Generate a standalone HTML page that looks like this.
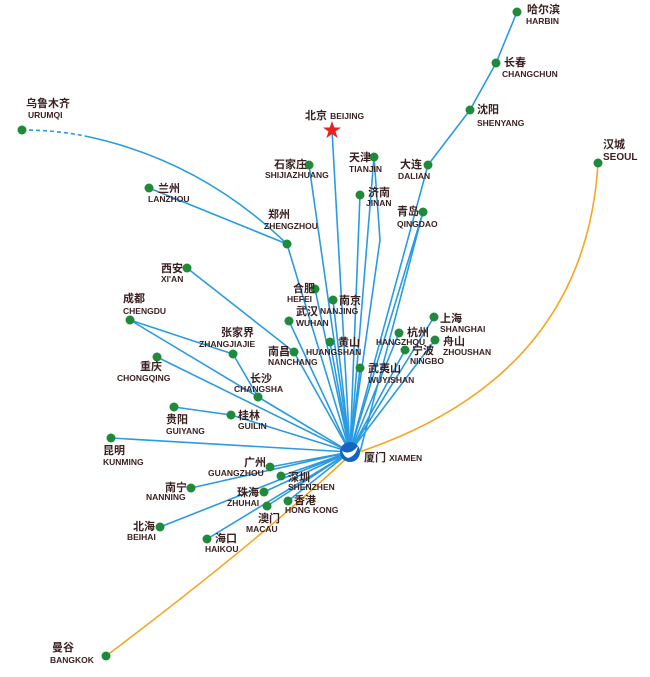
<!DOCTYPE html>
<html><head><meta charset="utf-8"><style>
body{margin:0;background:#fff;}
svg text{font-family:"Liberation Sans","Noto Sans CJK SC",sans-serif;font-weight:bold;fill:#3a1f1f;}
.c{font-size:11px}.e{font-size:8.5px}
</style></head><body>
<svg width="650" height="672" viewBox="0 0 650 672" xmlns="http://www.w3.org/2000/svg">
<g stroke="#2a9be0" stroke-width="1.6" fill="none">
<path d="M22,130 Q55,130 85,136" stroke-dasharray="4,3"/>
<path d="M85,136 Q200,160 287,244"/>
<path d="M149,188 L287,244 L350,452"/>
<path d="M517,12 L496,63 L470,110 L428,165 L350,452"/>
<path d="M332,130 L350,452"/>
<path d="M374,157 L350,452 M374,157 L380,240 L350,452"/>
<path d="M309,165 L350,452"/>
<path d="M360,195 L350,452"/>
<path d="M423,212 L350,452 M423,212 L360,452"/>
<path d="M187,268 L294,352 L350,452"/>
<path d="M130,320 L233,354 L258,397 L350,452 M130,320 L350,452"/>
<path d="M157,357 L350,452"/>
<path d="M315,289 L350,452 M333,300 L350,452 M289,321 L350,452 M330,342 L350,452"/>
<path d="M399,333 L350,452 M434,317 L350,452 M435,340 L350,452 M405,350 L350,452 M360,368 L350,452"/>
<path d="M174,407 L231,415 L350,452"/>
<path d="M111,438 L350,452"/>
<path d="M270,467 L350,452 M281,476 L350,452 M191,488 L350,452 M264,492 L350,452 M267,506 L350,452 M288,501 L350,452 M160,527 L350,452 M207,539 L350,452"/>
</g>
<path d="M598,163 Q585,380 350,455 Q260,540 106,656" stroke="#f5a623" stroke-width="1.6" fill="none"/>
<g fill="#1e8a3a">
<circle cx="22" cy="130" r="4.5"/><circle cx="149" cy="188" r="4.5"/><circle cx="287" cy="244" r="4.5"/>
<circle cx="517" cy="12" r="4.5"/><circle cx="496" cy="63" r="4.5"/><circle cx="470" cy="110" r="4.5"/><circle cx="428" cy="165" r="4.5"/>
<circle cx="374" cy="157" r="4.5"/><circle cx="309" cy="165" r="4.5"/><circle cx="360" cy="195" r="4.5"/><circle cx="423" cy="212" r="4.5"/>
<circle cx="187" cy="268" r="4.5"/><circle cx="294" cy="352" r="4.5"/><circle cx="130" cy="320" r="4.5"/><circle cx="233" cy="354" r="4.5"/>
<circle cx="258" cy="397" r="4.5"/><circle cx="157" cy="357" r="4.5"/><circle cx="315" cy="289" r="4.5"/><circle cx="333" cy="300" r="4.5"/>
<circle cx="289" cy="321" r="4.5"/><circle cx="330" cy="342" r="4.5"/><circle cx="399" cy="333" r="4.5"/><circle cx="434" cy="317" r="4.5"/>
<circle cx="435" cy="340" r="4.5"/><circle cx="405" cy="350" r="4.5"/><circle cx="360" cy="368" r="4.5"/><circle cx="174" cy="407" r="4.5"/>
<circle cx="231" cy="415" r="4.5"/><circle cx="111" cy="438" r="4.5"/><circle cx="270" cy="467" r="4.5"/><circle cx="281" cy="476" r="4.5"/>
<circle cx="191" cy="488" r="4.5"/><circle cx="264" cy="492" r="4.5"/><circle cx="267" cy="506" r="4.5"/><circle cx="288" cy="501" r="4.5"/>
<circle cx="160" cy="527" r="4.5"/><circle cx="207" cy="539" r="4.5"/><circle cx="598" cy="163" r="4.5"/><circle cx="106" cy="656" r="4.5"/>
</g>
<polygon points="332,121 334.3,127.5 341,127.5 335.5,131.5 337.6,138 332,134 326.4,138 328.5,131.5 323,127.5 329.7,127.5" fill="#e8201e"/>
<circle cx="350" cy="452" r="10" fill="#1565c0"/>
<path d="M342,451 Q350,456 358,446 Q356,456 348,458 Q344,457 342,451Z" fill="#fff"/>
<g>
<text x="527" y="13" class="c">哈尔滨</text><text x="526" y="24" class="e">HARBIN</text>
<text x="504" y="66" class="c">长春</text><text x="502" y="77" class="e">CHANGCHUN</text>
<text x="477" y="113" class="c">沈阳</text><text x="477" y="126" class="e">SHENYANG</text>
<text x="400" y="168" class="c">大连</text><text x="398" y="179" class="e">DALIAN</text>
<text x="397" y="215" class="c">青岛</text><text x="397" y="227" class="e">QINGDAO</text>
<text x="349" y="161" class="c">天津</text><text x="349" y="172" class="e">TIANJIN</text>
<text x="368" y="196" class="c">济南</text><text x="366" y="206" class="e">JINAN</text>
<text x="305" y="119" class="c">北京 <tspan class="e">BEIJING</tspan></text>
<text x="274" y="168" class="c">石家庄</text><text x="265" y="178" class="e">SHIJIAZHUANG</text>
<text x="158" y="192" class="c">兰州</text><text x="148" y="202" class="e">LANZHOU</text>
<text x="26" y="107" class="c">乌鲁木齐</text><text x="28" y="118" class="e">URUMQI</text>
<text x="268" y="218" class="c">郑州</text><text x="264" y="229" class="e">ZHENGZHOU</text>
<text x="161" y="272" class="c">西安</text><text x="161" y="282" class="e">XI'AN</text>
<text x="123" y="302" class="c">成都</text><text x="123" y="314" class="e">CHENGDU</text>
<text x="293" y="292" class="c">合肥</text><text x="287" y="302" class="e">HEFEI</text>
<text x="339" y="304" class="c">南京</text><text x="320" y="314" class="e">NANJING</text>
<text x="296" y="315" class="c">武汉</text><text x="296" y="326" class="e">WUHAN</text>
<text x="221" y="336" class="c">张家界</text><text x="199" y="347" class="e">ZHANGJIAJIE</text>
<text x="268" y="355" class="c">南昌</text><text x="268" y="365" class="e">NANCHANG</text>
<text x="338" y="346" class="c">黄山</text><text x="306" y="355" class="e">HUANGSHAN</text>
<text x="407" y="336" class="c">杭州</text><text x="376" y="345" class="e">HANGZHOU</text>
<text x="440" y="322" class="c">上海</text><text x="440" y="332" class="e">SHANGHAI</text>
<text x="443" y="345" class="c">舟山</text><text x="443" y="355" class="e">ZHOUSHAN</text>
<text x="412" y="354" class="c">宁波</text><text x="410" y="364" class="e">NINGBO</text>
<text x="368" y="372" class="c">武夷山</text><text x="368" y="383" class="e">WUYISHAN</text>
<text x="140" y="370" class="c">重庆</text><text x="117" y="381" class="e">CHONGQING</text>
<text x="250" y="382" class="c">长沙</text><text x="234" y="392" class="e">CHANGSHA</text>
<text x="166" y="423" class="c">贵阳</text><text x="166" y="434" class="e">GUIYANG</text>
<text x="238" y="419" class="c">桂林</text><text x="238" y="429" class="e">GUILIN</text>
<text x="103" y="454" class="c">昆明</text><text x="103" y="465" class="e">KUNMING</text>
<text x="244" y="466" class="c">广州</text><text x="208" y="476" class="e">GUANGZHOU</text>
<text x="288" y="481" class="c">深圳</text><text x="288" y="490" class="e">SHENZHEN</text>
<text x="165" y="491" class="c">南宁</text><text x="146" y="500" class="e">NANNING</text>
<text x="237" y="496" class="c">珠海</text><text x="227" y="506" class="e">ZHUHAI</text>
<text x="294" y="504" class="c">香港</text><text x="285" y="513" class="e">HONG KONG</text>
<text x="258" y="522" class="c">澳门</text><text x="246" y="532" class="e">MACAU</text>
<text x="133" y="530" class="c">北海</text><text x="127" y="540" class="e">BEIHAI</text>
<text x="215" y="542" class="c">海口</text><text x="205" y="552" class="e">HAIKOU</text>
<text x="603" y="148" class="c">汉城</text><text x="603" y="160" class="c" style="font-size:10px">SEOUL</text>
<text x="52" y="651" class="c">曼谷</text><text x="50" y="663" class="e">BANGKOK</text>
<text x="364" y="461" class="c">厦门 <tspan class="e">XIAMEN</tspan></text>
</g>
</svg>
</body></html>
